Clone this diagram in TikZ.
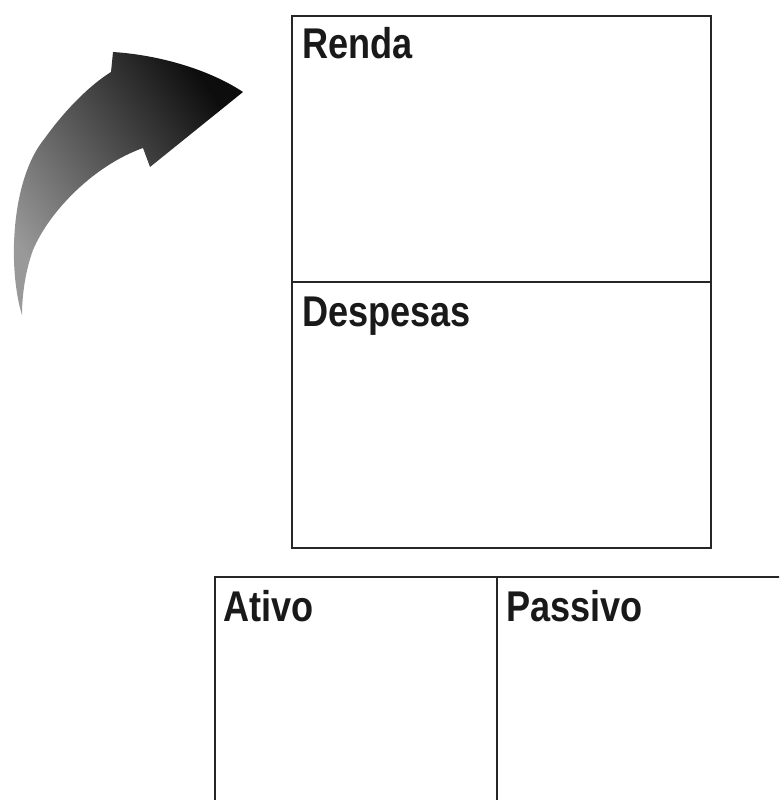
\documentclass[tikz,border=0pt]{standalone}
\usepackage{fontspec}
\setmainfont{Liberation Sans}[FakeStretch=0.84]
\usepackage{xcolor}
\usepackage{tikz}
\usetikzlibrary{arrows.meta}
\usetikzlibrary{positioning}

\begin{document}
\begin{tikzpicture}
    [x=1pt, y=-1pt,
      % Stil für die Felder
      quadro/.style={rectangle, draw=black!85, line width=2.4pt, outer sep=0pt, inner sep=0pt},
      % Stil für die Überschriften
      titulo/.style={anchor=base west, inner sep=0pt, font=\fontsize{43}{50}\selectfont\bfseries, text=black!90},
      % Stil für den Pfeil
      seta/.style={top color=black!40, bottom color=black!95, shading angle=125},
      node distance=0pt]
    \useasboundingbox (0,0) rectangle (779,800);
    \clip (0,0) rectangle (779,800);
    % Felder
    \node[quadro, minimum width=419pt, minimum height=266pt, anchor=north west] (renda) at (292,16) {};
    \node[quadro, minimum width=419pt, minimum height=266pt, below=of renda] (despesas) {};
    \node[quadro, minimum width=282pt, minimum height=260pt, anchor=north west] (ativo) at (215,577) {};
    \node[quadro, minimum width=300pt, minimum height=260pt, right=of ativo] (passivo) {};
    % Überschriften
    \node[titulo] (tRenda) at ([shift={(10pt,-43pt)}]renda.north west) {Renda};
    \node[titulo] (tDespesas) at ([shift={(10pt,-44pt)}]despesas.north west) {Despesas};
    \node[titulo] (tAtivo) at ([shift={(8pt,-44pt)}]ativo.north west) {Ativo};
    \node[titulo] (tPassivo) at ([shift={(9pt,-44pt)}]passivo.north west) {Passivo};
    % Pfeil
    \shade[seta] (22,315) .. controls (8,270) and (10,180) .. (45,138)
      .. controls (65,110) and (90,85) .. (111,72) -- (113,52)
      .. controls (160,55) and (210,70) .. (243,92) -- (150,167) -- (143,148)
      .. controls (95,165) and (50,210) .. (33,250)
      .. controls (24,275) and (22,300) .. cycle;
  \end{tikzpicture}
\end{document}
